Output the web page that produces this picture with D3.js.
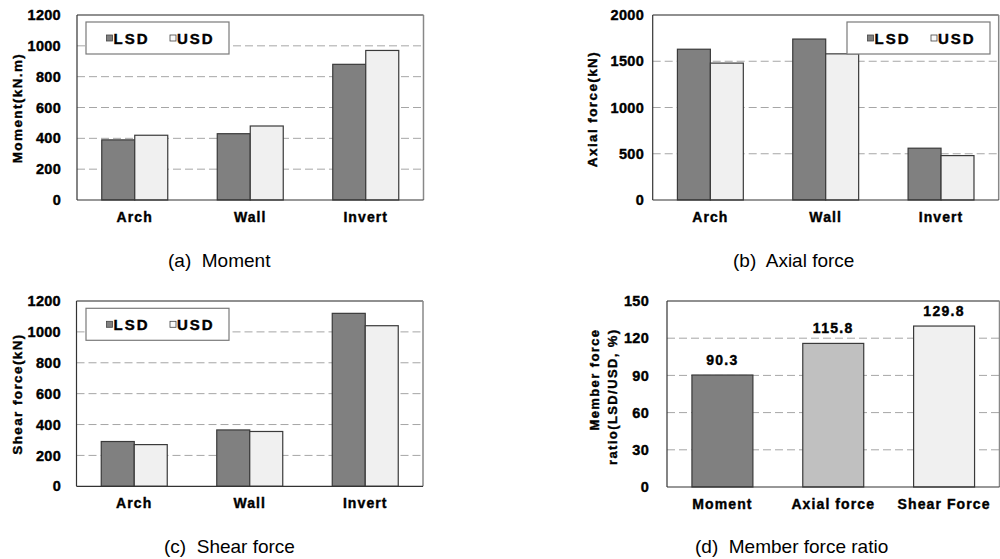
<!DOCTYPE html>
<html>
<head>
<meta charset="utf-8">
<script src="https://cdn.jsdelivr.net/npm/d3@7"></script>
<style>
  html, body { margin: 0; padding: 0; background: #fff; }
  svg { display: block; font-family: "Liberation Sans", Arial, sans-serif; }
  .tick-label { font-weight: bold; font-size: 14.5px; letter-spacing: 0.3px; fill: #000; stroke: #000; stroke-width: 0.4px; }
  .cat-label { font-weight: bold; font-size: 14px; letter-spacing: 1.1px; fill: #000; stroke: #000; stroke-width: 0.4px; }
  .axis-title { font-weight: bold; font-size: 13.5px; letter-spacing: 1.4px; fill: #000; stroke: #000; stroke-width: 0.4px; }
  .axis-title-d { font-weight: bold; font-size: 13px; letter-spacing: 1.4px; fill: #000; stroke: #000; stroke-width: 0.4px; }
  .legend-text { font-weight: bold; font-size: 15px; letter-spacing: 2px; fill: #000; stroke: #000; stroke-width: 0.4px; }
  .value-label { font-weight: bold; font-size: 14px; letter-spacing: 1.3px; fill: #000; stroke: #000; stroke-width: 0.4px; }
  .caption { font-size: 19px; fill: #000; white-space: pre; }
</style>
</head>
<body>
<svg id="chart" width="1000" height="559"></svg>
<script>
// ---------------- data ----------------
const categories = ["Arch", "Wall", "Invert"];
const seriesNames = ["LSD", "USD"];

const momentLSD = [390, 430, 880];
const momentUSD = [420, 480, 970];
const momentTicks = [0, 200, 400, 600, 800, 1000, 1200];

const axialLSD = [1630, 1740, 560];
const axialUSD = [1480, 1580, 480];
const axialTicks = [0, 500, 1000, 1500, 2000];

const shearLSD = [290, 365, 1120];
const shearUSD = [270, 355, 1040];
const shearTicks = [0, 200, 400, 600, 800, 1000, 1200];

const ratioCategories = ["Moment", "Axial force", "Shear Force"];
const ratioValues = [90.3, 115.8, 129.8];
const ratioTicks = [0, 30, 60, 90, 120, 150];

// ---------------- styles ----------------
const seriesColors = { LSD: "#808080", USD: "#f0f0f0" };
const ratioColors = ["#808080", "#c0c0c0", "#f0f0f0"];
const barStroke = "#3a3a3a";

const svg = d3.select("#chart");

function frame(g, x0, x1, y0, y1) {
  g.append("line").attr("x1", x0).attr("x2", x1).attr("y1", y0).attr("y2", y0)
    .attr("stroke", "#222").attr("stroke-width", 1.2);
  g.append("line").attr("x1", x1).attr("x2", x1).attr("y1", y0).attr("y2", y1)
    .attr("stroke", "#888").attr("stroke-width", 1.5);
  g.append("line").attr("x1", x0).attr("x2", x0).attr("y1", y0).attr("y2", y1)
    .attr("stroke", "#333").attr("stroke-width", 1.2);
  g.append("line").attr("x1", x0).attr("x2", x1).attr("y1", y1).attr("y2", y1)
    .attr("stroke", "#333").attr("stroke-width", 1.2);
}

function gridAndAxis(g, y, ticks, x0, x1, labelRight) {
  const inner = ticks.filter((t, i) => i > 0 && i < ticks.length - 1);
  g.append("g").selectAll("line").data(inner).join("line")
    .attr("x1", x0).attr("x2", x1)
    .attr("y1", d => y(d)).attr("y2", d => y(d))
    .attr("stroke", "#a6a6a6").attr("stroke-width", 1)
    .attr("stroke-dasharray", "8,4");
  const axis = d3.axisLeft(y).tickValues(ticks).tickFormat(d3.format("d"))
    .tickSize(0).tickPadding(x0 - labelRight);
  const ag = g.append("g").attr("transform", `translate(${x0},0)`).call(axis);
  ag.select(".domain").remove();
  ag.selectAll("text").attr("class", "tick-label").attr("font-family", null).attr("font-size", null);
}

function groupedPanel(cfg) {
  const g = svg.append("g");
  const { x0, x1, y0, y1 } = cfg;
  const y = d3.scaleLinear().domain([0, d3.max(cfg.ticks)]).range([y1, y0]);
  const x = d3.scaleBand().domain(categories).range([x0, x1]).paddingInner(0.4286).paddingOuter(0.2143);
  const xs = d3.scaleBand().domain(seriesNames).range([0, x.bandwidth()]);

  gridAndAxis(g, y, cfg.ticks, x0, x1, cfg.labelRight);

  const rows = categories.map((c, i) => ({ cat: c, LSD: cfg.lsd[i], USD: cfg.usd[i] }));
  const grp = g.append("g").selectAll("g").data(rows).join("g")
    .attr("transform", d => `translate(${x(d.cat)},0)`);
  grp.selectAll("rect").data(d => seriesNames.map(s => ({ s, v: d[s] }))).join("rect")
    .attr("x", d => xs(d.s)).attr("width", xs.bandwidth())
    .attr("y", d => y(d.v)).attr("height", d => y(0) - y(d.v))
    .attr("fill", d => seriesColors[d.s]).attr("stroke", barStroke).attr("stroke-width", 1.2);

  frame(g, x0, x1, y0, y1);

  g.append("g").selectAll("text").data(categories).join("text")
    .attr("class", "cat-label").attr("text-anchor", "middle")
    .attr("x", d => x(d) + x.bandwidth() / 2).attr("y", y1 + 22).text(d => d);

  g.append("text").attr("class", "axis-title").attr("text-anchor", "middle")
    .attr("transform", `translate(${cfg.titleX},${cfg.titleY}) rotate(-90)`)
    .attr("dy", "0.35em").text(cfg.title);

  const L = cfg.legend;
  const lg = g.append("g");
  lg.append("rect").attr("x", L.x).attr("y", L.y).attr("width", L.w).attr("height", L.h)
    .attr("fill", "#fff").attr("stroke", "#7a7a7a").attr("stroke-width", 1.2);
  seriesNames.forEach((s, i) => {
    const sx = L.x + 20.5 + i * 63.5;
    lg.append("rect").attr("x", sx).attr("y", L.y + 13).attr("width", 6).attr("height", 6)
      .attr("fill", s === "USD" ? "#fafafa" : seriesColors[s])
      .attr("stroke", "#444").attr("stroke-width", 0.8);
    lg.append("text").attr("class", "legend-text").attr("x", sx + 7).attr("y", L.y + 21.8).text(s);
  });

  g.append("text").attr("class", "caption").attr("x", cfg.capX).attr("y", cfg.capY).text(cfg.caption);
}

groupedPanel({
  x0: 77, x1: 423.5, y0: 15, y1: 200, lsd: momentLSD, usd: momentUSD, ticks: momentTicks,
  labelRight: 61, title: "Moment(kN.m)", titleX: 17.5, titleY: 108,
  legend: { x: 86, y: 22, w: 143, h: 32 }, caption: "(a)  Moment", capX: 168, capY: 267
});
groupedPanel({
  x0: 652.7, x1: 998.7, y0: 15, y1: 200, lsd: axialLSD, usd: axialUSD, ticks: axialTicks,
  labelRight: 644, title: "Axial force(kN)", titleX: 592, titleY: 109,
  legend: { x: 847, y: 22, w: 143, h: 32 }, caption: "(b)  Axial force", capX: 733, capY: 267
});
groupedPanel({
  x0: 76.5, x1: 423, y0: 301, y1: 486.3, lsd: shearLSD, usd: shearUSD, ticks: shearTicks,
  labelRight: 61, title: "Shear force(kN)", titleX: 17.5, titleY: 394,
  legend: { x: 86, y: 308.3, w: 143, h: 32 }, caption: "(c)  Shear force", capX: 164, capY: 553
});

// ---------------- panel (d) ----------------
(function () {
  const g = svg.append("g");
  const x0 = 667, x1 = 999.5, y0 = 301, y1 = 487;
  const y = d3.scaleLinear().domain([0, d3.max(ratioTicks)]).range([y1, y0]);
  const x = d3.scaleBand().domain(ratioCategories).range([x0, x1]).paddingInner(0.45).paddingOuter(0.225);

  gridAndAxis(g, y, ratioTicks, x0, x1, 649);

  const rows = ratioCategories.map((c, i) => ({ cat: c, v: ratioValues[i], color: ratioColors[i] }));
  g.append("g").selectAll("rect").data(rows).join("rect")
    .attr("x", d => x(d.cat)).attr("width", x.bandwidth())
    .attr("y", d => y(d.v)).attr("height", d => y(0) - y(d.v))
    .attr("fill", d => d.color).attr("stroke", barStroke).attr("stroke-width", 1.2);

  g.append("g").selectAll("text").data(rows).join("text")
    .attr("class", "value-label").attr("text-anchor", "middle")
    .attr("x", d => x(d.cat) + x.bandwidth() / 2).attr("y", d => y(d.v) - 10)
    .text(d => d.v.toFixed(1));

  frame(g, x0, x1, y0, y1);

  g.append("g").selectAll("text").data(ratioCategories).join("text")
    .attr("class", "cat-label").attr("text-anchor", "middle")
    .attr("x", d => x(d) + x.bandwidth() / 2).attr("y", y1 + 21.5).text(d => d);

  g.append("text").attr("class", "axis-title-d").attr("text-anchor", "end")
    .attr("transform", `translate(594,328.5) rotate(-90)`).attr("dy", "0.35em").text("Member force");
  g.append("text").attr("class", "axis-title-d").attr("text-anchor", "end")
    .attr("transform", `translate(612,328.5) rotate(-90)`).attr("dy", "0.35em").text("ratio(LSD/USD, %)");

  g.append("text").attr("class", "caption").attr("x", 695).attr("y", 553).text("(d)  Member force ratio");
})();
</script>
</body>
</html>
